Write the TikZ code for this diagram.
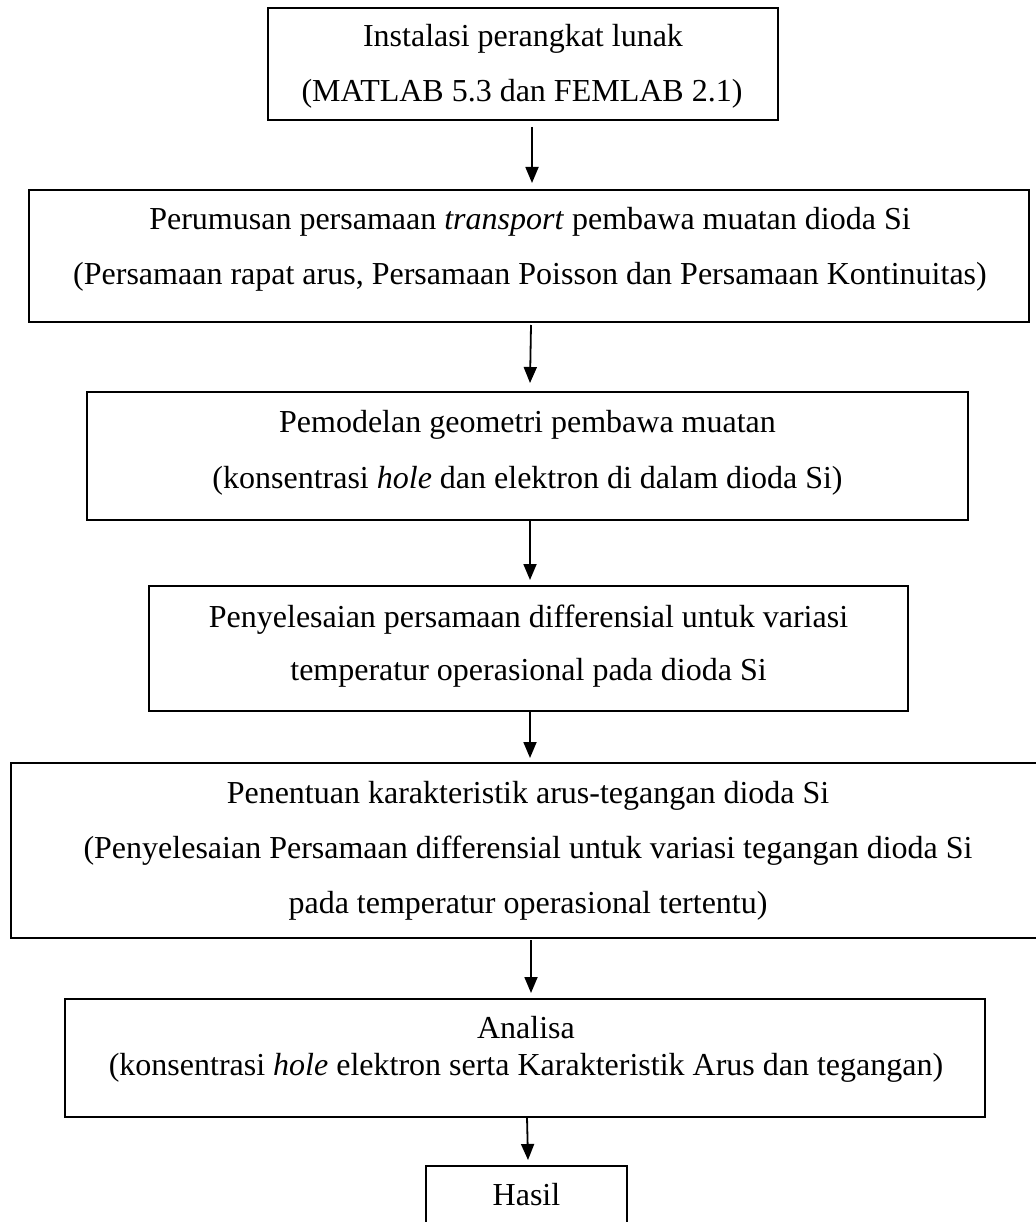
\documentclass[tikz,border=0pt]{standalone}
\usepackage{fontspec}
\setmainfont{Liberation Serif}
\usetikzlibrary{arrows.meta}
\begin{document}
\begin{tikzpicture}[x=1pt,y=-1pt,
  box/.style={draw=black, line width=1.8pt, rectangle, inner sep=0pt, outer sep=0pt},
  txt/.style={anchor=base, inner sep=0pt, font=\fontsize{32}{38}\selectfont},
  arr/.style={line width=1.8pt, -{Triangle[width=13pt,length=16pt]}}]
\useasboundingbox (0,0) rectangle (1035,1222);
\fill[white] (0,0) rectangle (1035,1222);

% boxes
\node[box, minimum width=510pt, minimum height=112pt] (b1) at (523,64) {};
\node[box, minimum width=1000pt, minimum height=132pt] (b2) at (529,256) {};
\node[box, minimum width=881pt, minimum height=128pt] (b3) at (527.5,456) {};
\node[box, minimum width=759pt, minimum height=125pt] (b4) at (528.5,648.5) {};
\node[box, minimum width=1039pt, minimum height=175pt] (b5) at (530.5,850.5) {};
\node[box, minimum width=920pt, minimum height=118pt] (b6) at (525,1058) {};
\node[box, minimum width=201pt, minimum height=84pt] (b7) at (526.5,1208) {};

% texts
\node[txt] (t1a) at (523,47) {Instalasi perangkat lunak};
\node[txt] (t1b) at (522,102) {(MATLAB 5.3 dan FEMLAB 2.1)};
\node[txt] (t2a) at (530,230) {Perumusan persamaan \textit{transport} pembawa muatan dioda Si};
\node[txt] (t2b) at (530,285) {(Persamaan rapat arus, Persamaan Poisson dan Persamaan Kontinuitas)};
\node[txt] (t3a) at (527.5,432) {Pemodelan geometri pembawa muatan};
\node[txt] (t3b) at (527.5,488) {(konsentrasi \textit{hole} dan elektron di dalam dioda Si)};
\node[txt] (t4a) at (528.5,627) {Penyelesaian persamaan differensial untuk variasi};
\node[txt] (t4b) at (528.5,680) {temperatur operasional pada dioda Si};
\node[txt] (t5a) at (528,803) {Penentuan karakteristik arus-tegangan dioda Si};
\node[txt] (t5b) at (528,858) {(Penyelesaian Persamaan differensial untuk variasi tegangan dioda Si};
\node[txt] (t5c) at (528,913) {pada temperatur operasional tertentu)};
\node[txt] (t6a) at (526,1038) {Analisa};
\node[txt] (t6b) at (526,1075) {(konsentrasi \textit{hole} elektron serta Karakteristik Arus dan tegangan)};
\node[txt] (t7a) at (526.5,1205) {Hasil};

% arrows
\draw[arr] ([xshift=9pt,yshift=-7pt]b1.south) -- ([xshift=3pt,yshift=7pt]b2.north);
\draw[arr] ([xshift=2pt,yshift=-3pt]b2.south) -- ([xshift=2.5pt,yshift=9pt]b3.north);
\draw[arr] ([xshift=2.5pt]b3.south) -- ([xshift=1.5pt,yshift=6pt]b4.north);
\draw[arr] ([xshift=1.5pt]b4.south) -- ([xshift=-0.5pt,yshift=5pt]b5.north);
\draw[arr] ([xshift=0.5pt,yshift=-2pt]b5.south) -- ([xshift=6pt,yshift=6pt]b6.north);
\draw[arr] ([xshift=2pt]b6.south) -- ([xshift=1.5pt,yshift=6pt]b7.north);
\end{tikzpicture}
\end{document}
